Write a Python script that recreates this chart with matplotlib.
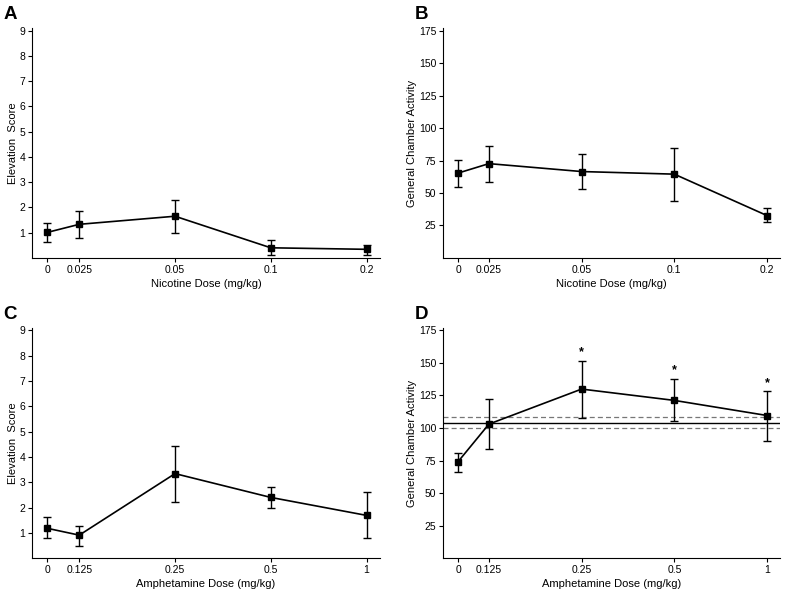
#!/usr/bin/env python3
"""Four-panel dose-response figure: elevation score and chamber activity."""

import matplotlib.pyplot as plt

plt.rcParams["font.family"] = ["Liberation Sans", "DejaVu Sans"]

# Data
nic_doses = ["0", "0.025", "0.05", "0.1", "0.2"]
amph_doses = ["0", "0.125", "0.25", "0.5", "1"]

nic_elev = [1.01, 1.33, 1.65, 0.40, 0.34]
nic_elev_lo = [0.61, 0.79, 1.00, 0.10, 0.12]
nic_elev_hi = [1.39, 1.84, 2.30, 0.69, 0.53]

nic_act = [65.3, 72.6, 66.5, 64.5, 32.6]
nic_act_lo = [54.9, 58.7, 53.1, 44.0, 27.3]
nic_act_hi = [75.2, 86.3, 80.2, 84.8, 38.2]

amph_elev = [1.18, 0.91, 3.34, 2.40, 1.69]
amph_elev_lo = [0.79, 0.47, 2.21, 1.97, 0.79]
amph_elev_hi = [1.61, 1.27, 4.45, 2.83, 2.60]

amph_act = [74.1, 103.0, 129.9, 121.2, 109.6]
amph_act_lo = [66.5, 84.0, 107.5, 105.5, 90.1]
amph_act_hi = [81.0, 122.0, 151.4, 137.7, 128.1]

# saline baseline mean and its band (panel D)
base_mean = 103.8
base_band = [99.7, 108.1]
sig_doses = ["0.25", "0.5", "1"]

x_pos = [0, 1, 4, 7, 10]

fig = plt.figure(figsize=(8, 5.97), dpi=100)
boxes = {
    "A": [0.040, 0.568, 0.435, 0.385],
    "B": [0.554, 0.568, 0.421, 0.385],
    "C": [0.040, 0.065, 0.435, 0.386],
    "D": [0.554, 0.065, 0.421, 0.386],
}


def panel(key, labels, y, lo, hi, ylim, yticks, ylabel, xlabel):
    ax = fig.add_axes(boxes[key])
    yerr = [[v - l for v, l in zip(y, lo)], [h - v for v, h in zip(y, hi)]]
    ax.errorbar(x_pos, y, yerr=yerr, color="black", marker="s", markersize=5,
                linewidth=1.2, elinewidth=1.0, capsize=3, capthick=1.0, zorder=3)
    ax.set_xlim(-0.48, 10.42)
    ax.set_ylim(*ylim)
    ax.set_xticks(x_pos)
    ax.set_xticklabels(labels)
    ax.set_yticks(yticks)
    ax.spines["top"].set_visible(False)
    ax.spines["right"].set_visible(False)
    ax.tick_params(direction="out", length=3, width=0.8, labelsize=7.5, pad=2)
    ax.set_ylabel(ylabel, fontsize=8, labelpad=1)
    ax.set_xlabel(xlabel, fontsize=8, labelpad=3)
    fig.text(boxes[key][0] - 0.036, boxes[key][1] + boxes[key][3] + 0.022, key,
             fontsize=13.5, fontweight="bold", va="center", ha="left")
    return ax


panel("A", nic_doses, nic_elev, nic_elev_lo, nic_elev_hi, (0, 9.1),
      range(1, 10), "Elevation  Score", "Nicotine Dose (mg/kg)")
panel("B", nic_doses, nic_act, nic_act_lo, nic_act_hi, (0, 177),
      range(25, 176, 25), "General Chamber Activity", "Nicotine Dose (mg/kg)")
panel("C", amph_doses, amph_elev, amph_elev_lo, amph_elev_hi, (0, 9.1),
      range(1, 10), "Elevation  Score", "Amphetamine Dose (mg/kg)")
axd = panel("D", amph_doses, amph_act, amph_act_lo, amph_act_hi, (0, 177),
            range(25, 176, 25), "General Chamber Activity", "Amphetamine Dose (mg/kg)")

axd.axhline(base_mean, color="black", linewidth=1.0, zorder=2)
for b in base_band:
    axd.axhline(b, color="#777777", linewidth=0.9, linestyle=(0, (4, 2.5)), zorder=2)
for d in sig_doses:
    i = amph_doses.index(d)
    axd.text(x_pos[i], amph_act_hi[i] + 2, "*", ha="center", va="bottom",
             fontsize=9, fontweight="bold")

plt.savefig("out.png", dpi=100)
